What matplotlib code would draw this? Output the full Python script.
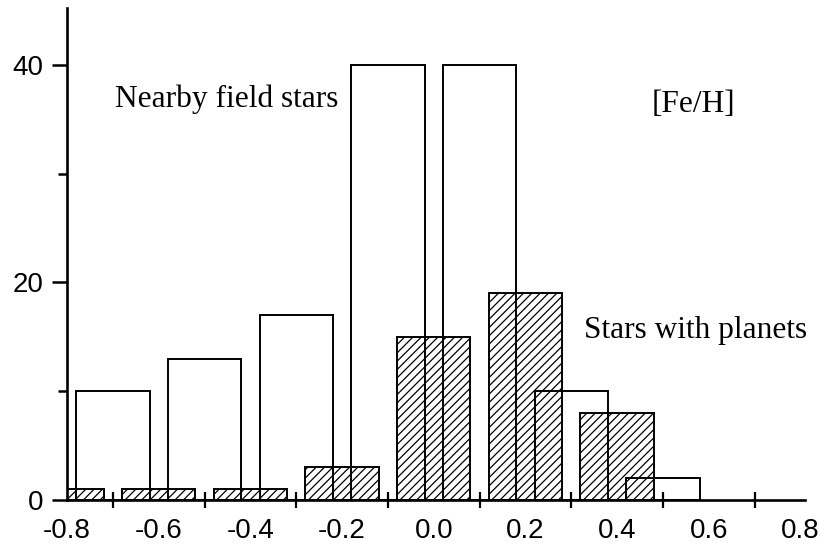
import numpy as np
import matplotlib.pyplot as plt

# [Fe/H] bins
field_x = [-0.7, -0.5, -0.3, -0.1, 0.1, 0.3, 0.5]
field_n = [10, 13, 17, 40, 40, 10, 2]
planet_x = [-0.8, -0.6, -0.4, -0.2, 0.0, 0.2, 0.4]
planet_n = [1, 1, 1, 3, 15, 19, 8]

label_ticks = [-0.8, -0.6, -0.4, -0.2, 0.0, 0.2, 0.4, 0.6, 0.8]
label_text = ['-0.8', '-0.6', '-0.4', '-0.2', '0.0', '0.2', '0.4', '0.6', '0.8']
mark_ticks = [-0.7, -0.5, -0.3, -0.1, 0.1, 0.3, 0.5, 0.7]

plt.rcParams['hatch.linewidth'] = 0.9

fig = plt.figure(figsize=(8.25, 5.46), dpi=100)
ax = fig.add_axes([0.0812, 0.0842, 0.8946, 0.9008])

ax.bar(field_x, field_n, width=0.16, fill=False, edgecolor='black', linewidth=1.4)
ax.bar(planet_x, planet_n, width=0.16, fill=False, edgecolor='black',
       linewidth=1.4, hatch='////')

ax.set_xlim(-0.8, 0.81)
ax.set_ylim(0, 45.2)

for s in ['top', 'right']:
    ax.spines[s].set_visible(False)
for s in ['left', 'bottom']:
    ax.spines[s].set_linewidth(1.9)

# x: labels without marks, marks between labels
ax.set_xticks(label_ticks)
ax.set_xticklabels(label_text)
ax.set_xticks(mark_ticks, minor=True)
ax.tick_params(axis='x', which='major', length=0, pad=13,
               labelsize=20)
ax.tick_params(axis='x', which='minor', direction='inout', length=12, width=1.6)

ax.set_yticks([0, 20, 40])
ax.set_yticks([10, 30], minor=True)
ax.tick_params(axis='y', which='major', length=11, width=1.8, pad=6, labelsize=20)
ax.tick_params(axis='y', which='minor', length=6.5, width=1.8)

for lab in ax.get_xticklabels() + ax.get_yticklabels():
    lab.set_fontfamily('Liberation Sans')

serif = dict(fontfamily='Liberation Serif', fontsize=22.6, va='baseline', ha='left')
ax.text(-0.695, 36.1, 'Nearby field stars', **serif)
ax.text(0.476, 35.7, '[Fe/H]', **serif)
ax.text(0.328, 14.9, 'Stars with planets', **serif)

fig.savefig('out.png', dpi=100)
